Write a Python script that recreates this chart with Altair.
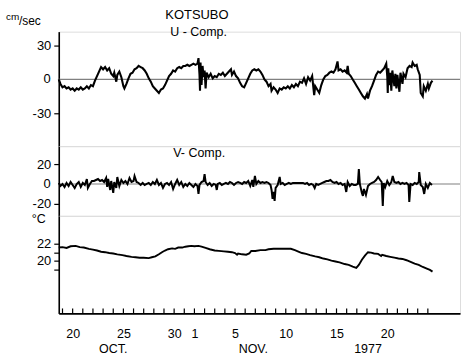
import altair as alt
import pandas as pd

# Day numbers counted from Oct 1 (Oct 20 = 20, Nov 1 = 32, Nov 20 = 51)
u_day = [18.63, 18.8, 19.0, 19.2, 19.4, 19.6, 19.8, 20.0, 20.2, 20.4, 20.6, 20.8, 21.0, 21.2, 21.4, 21.6, 21.8, 22.0,
         22.2, 22.4, 22.6, 22.8, 23.0, 23.2, 23.4, 23.6, 23.8, 24.0, 24.1, 24.3, 24.4, 24.6, 24.8, 25.0, 25.1, 25.3,
         25.5, 25.7, 25.9, 26.1, 26.3, 26.5, 26.7, 26.9, 27.1, 27.3, 27.5, 27.7, 27.9, 28.1, 28.3, 28.5, 28.7, 28.9,
         29.1, 29.3, 29.5, 29.7, 29.9, 30.1, 30.3, 30.5, 30.7, 30.9, 31.1, 31.3, 31.5, 31.7, 31.9, 32.1, 32.3, 32.4,
         32.5, 32.55, 32.6, 32.7, 32.8, 32.9, 33.0, 33.1, 33.2, 33.4, 33.6, 33.8, 34.0, 34.2, 34.4, 34.6, 34.8, 35.0,
         35.2, 35.4, 35.6, 35.7, 35.9, 36.1, 36.3, 36.5, 36.7, 36.9, 37.1, 37.3, 37.5, 37.7, 37.9, 38.1, 38.3, 38.5,
         38.7, 38.9, 39.1, 39.3, 39.5, 39.6, 39.8, 40.0, 40.2, 40.4, 40.6, 40.8, 41.0, 41.2, 41.4, 41.6, 41.8, 42.0,
         42.2, 42.4, 42.6, 42.8, 43.0, 43.2, 43.4, 43.6, 43.8, 43.9, 44.1, 44.3, 44.5, 44.7, 44.9, 45.1, 45.3, 45.5,
         45.7, 45.9, 46.1, 46.2, 46.4, 46.6, 46.8, 47.0, 47.1, 47.2, 47.4, 47.6, 47.8, 48.0, 48.2, 48.4, 48.6, 48.8,
         49.0, 49.1, 49.3, 49.5, 49.7, 49.9, 50.1, 50.3, 50.5, 50.7, 50.9, 51.0, 51.05, 51.1, 51.2, 51.3, 51.4, 51.5,
         51.7, 51.8, 51.9, 52.0, 52.2, 52.3, 52.5, 52.6, 52.8, 53.0, 53.2, 53.4, 53.5, 53.7, 53.9, 54.0, 54.2, 54.3,
         54.5, 54.6, 54.8, 55.0, 55.1, 55.3, 55.45]
u_val = [0, -4, -7, -6, -8, -7, -9, -8, -10, -8, -9, -7, -9, -8, -6, -8, -5, -6,
         -1, 3, 7, 11, 9, 11, 8, 10, 5, 3, 6, -2, 4, 7, 2, -6, -8, -4,
         1, 5, 6, 9, 10, 12, 11, 10, 8, 5, 1, -2, -6, -8, -10, -12, -9, -8,
         -5, -1, 3, 5, 8, 7, 10, 11, 10, 12, 12, 13, 12, 13, 14, 13, 14, 19,
         4, -10, 15, -5, 12, 2, 8, -8, 6, 2, 5, 1, 3, 2, 5, 4, 6, 3,
         5, 7, 9, 4, 7, 3, 1, -3, -6, -7, -3, 1, 5, 8, 9, 8, 9, 7,
         4, 0, -2, -6, -4, -10, -7, -9, -12, -8, -9, -7, -8, -6, -8, -5, -7, -4,
         -6, -2, -3, 1, -4, 2, -1, 3, -14, -6, -9, -12, -5, 0, 3, 4, 6, 7,
         6, 9, 16, 8, 9, 7, 8, 6, 12, 5, 3, 0, -3, -6, -9, -12, -15, -17,
         -13, -17, -10, -6, -1, 4, 7, 6, 8, 10, 14, 3, -12, 10, -5, 6, -10, 8,
         -6, 5, -8, 4, -11, 6, -4, 5, 2, 10, 12, 11, 15, 12, 13, 9, 4, -12,
         -15, -6, -10, -4, -8, -3, -1]

v_day = [18.63, 18.8, 19.0, 19.2, 19.4, 19.6, 19.8, 20.0, 20.2, 20.4, 20.6, 20.8, 21.0, 21.2, 21.4, 21.5, 21.7, 21.9,
         22.1, 22.3, 22.5, 22.7, 22.9, 23.1, 23.3, 23.4, 23.5, 23.7, 23.8, 24.0, 24.1, 24.3, 24.4, 24.6, 24.8, 25.0,
         25.2, 25.4, 25.6, 25.8, 26.0, 26.1, 26.3, 26.5, 26.7, 26.9, 27.1, 27.3, 27.5, 27.7, 27.9, 28.1, 28.3, 28.5,
         28.7, 28.9, 29.1, 29.3, 29.5, 29.7, 29.9, 30.1, 30.3, 30.5, 30.7, 30.9, 31.1, 31.3, 31.5, 31.7, 31.9, 32.1,
         32.3, 32.4, 32.5, 32.7, 32.9, 33.0, 33.1, 33.3, 33.5, 33.7, 33.9, 34.1, 34.2, 34.3, 34.5, 34.7, 34.9, 35.1,
         35.3, 35.5, 35.7, 35.9, 36.1, 36.3, 36.5, 36.7, 36.9, 37.1, 37.3, 37.5, 37.7, 37.8, 37.96, 38.1, 38.3, 38.5,
         38.7, 38.9, 39.1, 39.3, 39.5, 39.6, 39.7, 39.8, 39.9, 40.0, 40.2, 40.4, 40.5, 40.7, 40.9, 41.1, 41.3, 41.5,
         41.7, 41.9, 42.1, 42.3, 42.5, 42.7, 42.9, 43.1, 43.3, 43.5, 43.7, 43.85, 44.0, 44.2, 44.4, 44.6, 44.8, 45.0,
         45.2, 45.4, 45.6, 45.8, 46.0, 46.2, 46.4, 46.6, 46.8, 46.96, 47.1, 47.3, 47.5, 47.7, 47.9, 48.1, 48.2, 48.3,
         48.5, 48.6, 48.7, 48.9, 49.1, 49.3, 49.5, 49.7, 49.9, 50.1, 50.3, 50.45, 50.56, 50.65, 50.8, 51.0, 51.2, 51.4,
         51.54, 51.7, 51.9, 52.1, 52.3, 52.5, 52.7, 52.9, 53.1, 53.17, 53.3, 53.5, 53.7, 53.9, 54.1, 54.15, 54.3, 54.5,
         54.64, 54.8, 55.0, 55.2, 55.4]
v_val = [1, -2, 0, -3, 1, -2, 2, -1, -4, 0, 2, -3, 1, -1, 5, -4, 0, 3,
         3, 4, 5, 3, 4, 2, 6, -3, 5, -6, 3, -9, 2, -4, 7, -2, 4, 1,
         3, 0, 6, 2, 3, 8, 2, 1, -1, 1, -1, 0, 1, -1, 2, 0, 4, -1,
         1, -4, 0, 1, -1, 2, -5, 0, 4, -1, 2, -3, 0, -2, 1, -1, -3, 0,
         -2, -10, -1, 2, 3, 10, 2, -1, 1, -2, 0, -1, -6, 0, 1, -1, 0, 1,
         0, 2, 1, -1, 1, 2, 1, 0, 2, 1, 3, -2, 4, -3, 8, 0, 3, 1,
         2, 1, 2, 1, -1, -6, -15, -8, -17, -4, -1, 7, 0, 1, -1, 0, 1, 0,
         1, 1, 1, 1, 1, 1, 0, 1, -1, 0, -1, -4, 0, -1, 0, 1, 2, 3,
         3, 4, 2, 1, 2, 0, 1, -1, 0, -8, 2, -2, 0, -1, -1, 0, 15, 0,
         -9, -12, -5, -11, -2, 0, 1, 2, 4, 7, 4, 2, -22, 1, -3, 3, -1, 2,
         8, 2, 1, 2, 0, 1, 0, 1, -1, -18, 0, -1, 1, 0, 2, 12, -1, -3,
         -10, 0, -4, 1, -1]

t_day = [18.63, 19.0, 19.4, 19.8, 20.3, 20.7, 21.1, 21.6, 22.0, 22.4, 22.8, 23.2, 23.6, 24.0, 24.4, 24.9, 25.3, 25.8,
         26.2, 26.6, 27.0, 27.5, 27.8, 28.15, 28.5, 28.8, 29.1, 29.4, 29.8, 30.1, 30.4, 30.8, 31.1, 31.4, 31.7, 32.0,
         32.4, 32.7, 33.1, 33.5, 34.0, 34.4, 34.9, 35.3, 35.7, 36.0, 36.2, 36.3, 36.7, 37.1, 37.4, 37.6, 38.0, 38.5,
         39.0, 39.3, 39.8, 40.3, 40.8, 41.5, 41.9, 42.3, 42.6, 43.0, 43.4, 43.9, 44.3, 44.7, 45.1, 45.5, 45.9, 46.3,
         46.8, 47.2, 47.6, 47.95, 48.2, 48.5, 48.8, 49.1, 49.4, 49.7, 50.1, 50.4, 50.5, 50.9, 51.3, 51.7, 52.1, 52.5,
         52.9, 53.3, 53.7, 54.1, 54.5, 54.9, 55.2, 55.46]
t_val = [21.55, 21.6, 21.5, 21.7, 21.75, 21.6, 21.55, 21.4, 21.3, 21.2, 21.05, 21.0, 20.9, 20.85, 20.75, 20.65, 20.55, 20.45,
         20.4, 20.35, 20.35, 20.3, 20.4, 20.5, 20.75, 21.0, 21.2, 21.35, 21.45, 21.4, 21.55, 21.55, 21.65, 21.7, 21.75, 21.7,
         21.75, 21.65, 21.5, 21.35, 21.2, 21.15, 21.1, 21.05, 21.0, 20.9, 20.7, 20.85, 20.75, 20.7, 20.85, 21.15, 21.15, 21.25,
         21.25, 21.35, 21.4, 21.4, 21.4, 21.4, 21.25, 21.05, 20.9, 20.8, 20.65, 20.5, 20.4, 20.25, 20.15, 20.0, 19.9, 19.8,
         19.6, 19.5, 19.3, 19.15, 19.5, 20.1, 20.6, 21.0, 20.95, 20.85, 20.8, 20.55, 20.7, 20.55, 20.45, 20.35, 20.25, 20.2,
         20.05, 19.85, 19.65, 19.5, 19.25, 19.05, 18.9, 18.7]

tick_days = list(range(19, 56))
x_label_days = [20, 25, 30, 32, 36, 41, 46, 51]
u_ticks = [-30, -20, -10, 0, 10, 20, 30]
u_labeled = [-30, 30]
v_ticks = [-20, -10, 0, 10, 20]
v_labeled = [-20, 20]
t_ticks = [19, 20, 21, 22]
t_labeled = [20, 22]
zero_text = ["0"]
month_labels = ["OCT.", "NOV.", "1977"]
month_days = [24.0, 37.8, 49.1]

W = 403
UH, VH, TH = 115, 70, 98
FONT = "Liberation Sans"
LBL = 13

xscale = alt.Scale(domain=[18.63, 58.17], nice=False, zero=False)
x_none = alt.X("day:Q", scale=xscale, axis=None)


def yaxis(vals, shown):
    expr = ("indexof([" + ",".join(str(s) for s in shown) + "], datum.value) >= 0 ? "
            "(datum.value < 0 ? '-' : '') + abs(datum.value) : ''")
    return alt.Axis(values=vals, labelExpr=expr, title=None, grid=False, tickSize=5,
                    tickColor="black", tickWidth=1.2, domainColor="black", domainWidth=1.6,
                    labelPadding=3, labelFont=FONT, labelFontSize=LBL, labelColor="black",
                    labelOverlap=False, labelFlush=False)


def label(txt, x, y, size=12.5, align="left", baseline="middle"):
    return alt.Chart(pd.DataFrame({"t": [txt]})).mark_text(
        font=FONT, fontSize=size, align=align, baseline=baseline, color="black"
    ).encode(text="t:N", x=alt.value(x), y=alt.value(y))


def zero_rule():
    return alt.Chart(pd.DataFrame({"z": [0]})).mark_rule(color="#808080", strokeWidth=1.2).encode(
        y=alt.datum(0), x=alt.value(0), x2=alt.value(W))


def zero_label():
    # the "0" tick label, placed through the panel's own y scale
    return alt.Chart(pd.DataFrame({"t": zero_text})).mark_text(
        font=FONT, fontSize=LBL, align="right", baseline="middle", color="black"
    ).encode(text="t:N", x=alt.value(-8), y=alt.datum(0))


# U panel
u_df = pd.DataFrame({"day": u_day, "val": u_val})
u_line = alt.Chart(u_df).mark_line(color="black", strokeWidth=2.1).encode(
    x=x_none,
    y=alt.Y("val:Q", scale=alt.Scale(domain=[-59.3, 42.5], nice=False, zero=False),
            axis=yaxis(u_ticks, u_labeled)))
u_chart = alt.layer(
    zero_rule(), u_line, zero_label(),
    label("cm", -53, -12, size=10, baseline="alphabetic"),
    label("/sec", -40, -7, size=12, baseline="alphabetic"),
    label("KOTSUBO", 107, -23, size=13, baseline="top"),
    label("U - Comp.", 112, 0, size=12.5),
).properties(width=W, height=UH)

# V panel
v_df = pd.DataFrame({"day": v_day, "val": v_val})
v_line = alt.Chart(v_df).mark_line(color="black", strokeWidth=2.0).encode(
    x=x_none,
    y=alt.Y("val:Q", scale=alt.Scale(domain=[-32, 38], nice=False, zero=False),
            axis=yaxis(v_ticks, v_labeled)))
v_chart = alt.layer(
    zero_rule(), v_line, zero_label(),
    label("V- Comp.", 115, 7, size=12.5),
).properties(width=W, height=VH)

# Temperature panel
t_df = pd.DataFrame({"day": t_day, "val": t_val})
t_line = alt.Chart(t_df).mark_line(color="black", strokeWidth=1.9).encode(
    x=alt.X("day:Q", scale=xscale,
            axis=alt.Axis(values=x_label_days, ticks=False, grid=False, title=None,
                          labelExpr="'' + (datum.value > 31 ? datum.value - 31 : datum.value)",
                          domainColor="black", domainWidth=1.8, labelPadding=14,
                          labelFont=FONT, labelFontSize=12.5, labelColor="black",
                          labelOverlap=False, labelFlush=False)),
    y=alt.Y("val:Q", scale=alt.Scale(domain=[13.76, 25.3], nice=False, zero=False),
            axis=yaxis(t_ticks, t_labeled)))
ticks = alt.Chart(pd.DataFrame({"day": tick_days})).mark_rule(color="black", strokeWidth=1.2).encode(
    x=alt.X("day:Q", scale=xscale), y=alt.value(TH), y2=alt.value(TH - 5))
months = alt.Chart(pd.DataFrame({"m": month_labels, "day": month_days})).mark_text(
    font=FONT, fontSize=12.5, align="center", baseline="middle", color="black"
).encode(text="m:N", x=alt.X("day:Q", scale=xscale), y=alt.value(TH + 36))
t_chart = alt.layer(
    t_line, ticks, months,
    label("°C", -27, 3, size=12.5),
).properties(width=W, height=TH)

chart = alt.vconcat(u_chart, v_chart, t_chart, spacing=0, bounds="flush").properties(
    padding={"left": 5, "top": 7, "right": 2, "bottom": 0}
).configure_view(stroke="transparent").configure(background="white")

chart.save("out.html", embed_options={"renderer": "svg", "actions": False})
